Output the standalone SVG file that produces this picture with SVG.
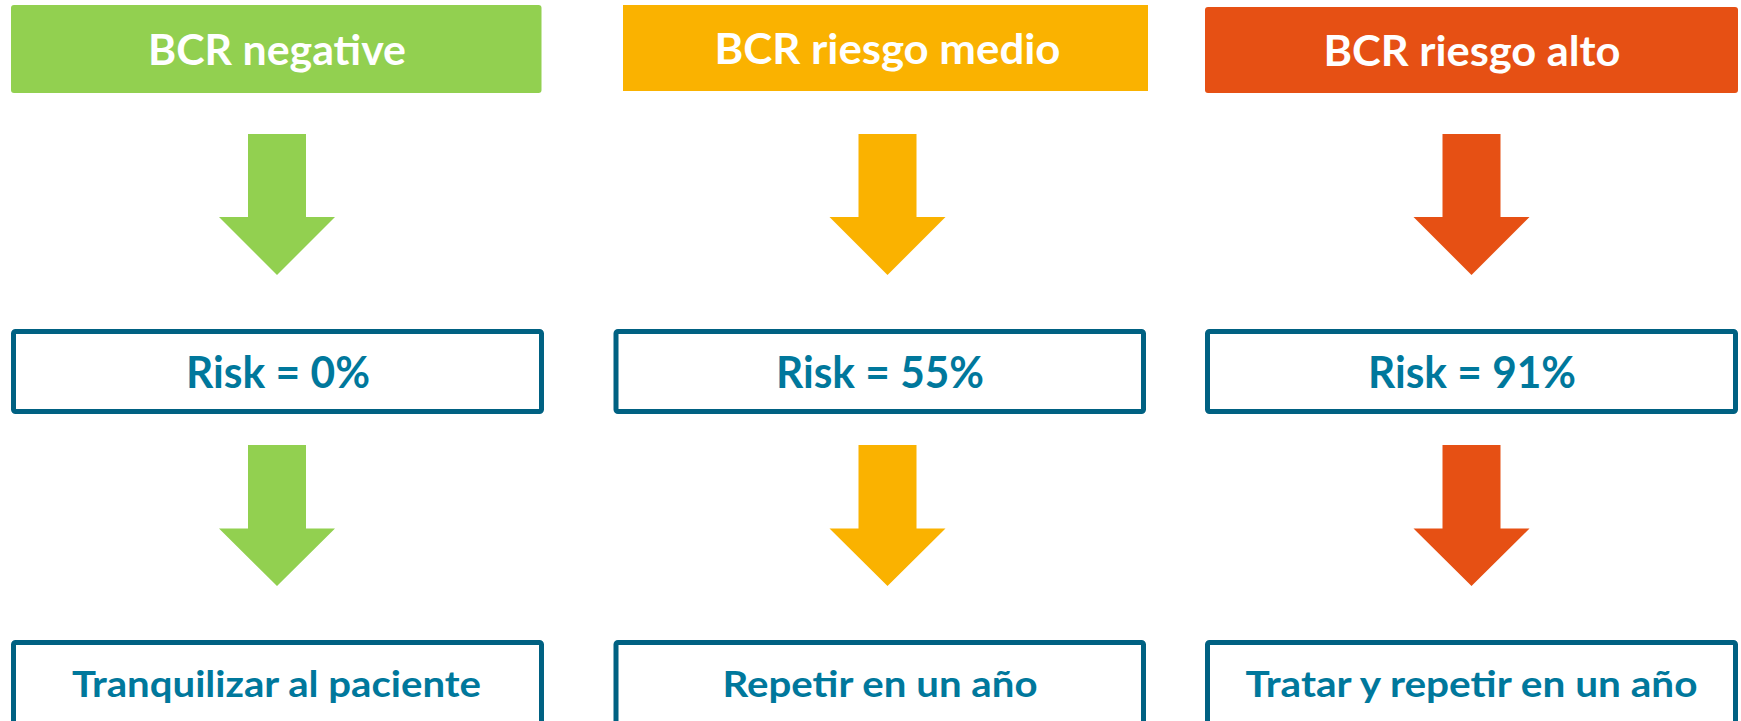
<svg xmlns="http://www.w3.org/2000/svg" width="1741" height="721" viewBox="0 0 1741 721">
<style>
.hdr{font-family:Lato,"Open Sans","Liberation Sans",sans-serif;font-weight:700;font-size:42px;fill:#ffffff;text-anchor:middle}
.risk{font-family:Lato,"Open Sans","Liberation Sans",sans-serif;font-weight:700;font-size:43px;fill:#00789C;text-anchor:middle}
.act{font-family:Lato,"Open Sans","Liberation Sans",sans-serif;font-weight:700;font-size:37px;fill:#00789C;text-anchor:middle}
.box{fill:#ffffff;stroke:#006182;stroke-width:5}
.g{fill:#92D050}.o{fill:#FAB200}.r{fill:#E65014}
</style>
<rect width="1741" height="721" fill="#ffffff"/>
<g id="hdr-green"><rect class="g" x="11" y="5" width="530.5" height="88" rx="3"/><text class="hdr" x="277" y="65" textLength="258" lengthAdjust="spacingAndGlyphs">BCR negative</text></g>
<g id="hdr-orange"><rect class="o" x="623" y="5" width="525" height="86"/><text class="hdr" x="887.5" y="63.5" textLength="346" lengthAdjust="spacingAndGlyphs">BCR riesgo medio</text></g>
<g id="hdr-red"><rect class="r" x="1205" y="7" width="533" height="86" rx="3"/><text class="hdr" x="1472" y="65.5" textLength="297" lengthAdjust="spacingAndGlyphs">BCR riesgo alto</text></g>
<g id="risk-0"><rect class="box" x="13.5" y="331.5" width="528" height="80" rx="2"/><text class="risk" x="278" y="388" textLength="184" lengthAdjust="spacingAndGlyphs">Risk = 0%</text></g>
<g id="risk-55"><rect class="box" x="616" y="331.5" width="527.5" height="80" rx="2"/><text class="risk" x="880" y="388" textLength="208" lengthAdjust="spacingAndGlyphs">Risk = 55%</text></g>
<g id="risk-91"><rect class="box" x="1207.5" y="331.5" width="528" height="80" rx="2"/><text class="risk" x="1472" y="388" textLength="208" lengthAdjust="spacingAndGlyphs">Risk = 91%</text></g>
<g id="act-1"><rect class="box" x="13.5" y="642.5" width="528" height="85" rx="2"/><text class="act" x="276.5" y="697" textLength="409" lengthAdjust="spacingAndGlyphs">Tranquilizar al paciente</text></g>
<g id="act-2"><rect class="box" x="616" y="642.5" width="527.5" height="85" rx="2"/><text class="act" x="880" y="697" textLength="315" lengthAdjust="spacingAndGlyphs">Repetir en un año</text></g>
<g id="act-3"><rect class="box" x="1207.5" y="642.5" width="528" height="85" rx="2"/><text class="act" x="1471.5" y="697" textLength="452" lengthAdjust="spacingAndGlyphs">Tratar y repetir en un año</text></g>
<g id="connectors">
<polygon class="g" points="248,134 306,134 306,217 335,217 277,275 219,217 248,217"/>
<polygon class="o" points="858.5,134 916.5,134 916.5,217 945.5,217 887.5,275 829.5,217 858.5,217"/>
<polygon class="r" points="1442.5,134 1500.5,134 1500.5,217 1529.5,217 1471.5,275 1413.5,217 1442.5,217"/>
<polygon class="g" points="248,445 306,445 306,528.5 335,528.5 277,586 219,528.5 248,528.5"/>
<polygon class="o" points="858.5,445 916.5,445 916.5,528.5 945.5,528.5 887.5,586 829.5,528.5 858.5,528.5"/>
<polygon class="r" points="1442.5,445 1500.5,445 1500.5,528.5 1529.5,528.5 1471.5,586 1413.5,528.5 1442.5,528.5"/>
</g>
</svg>
